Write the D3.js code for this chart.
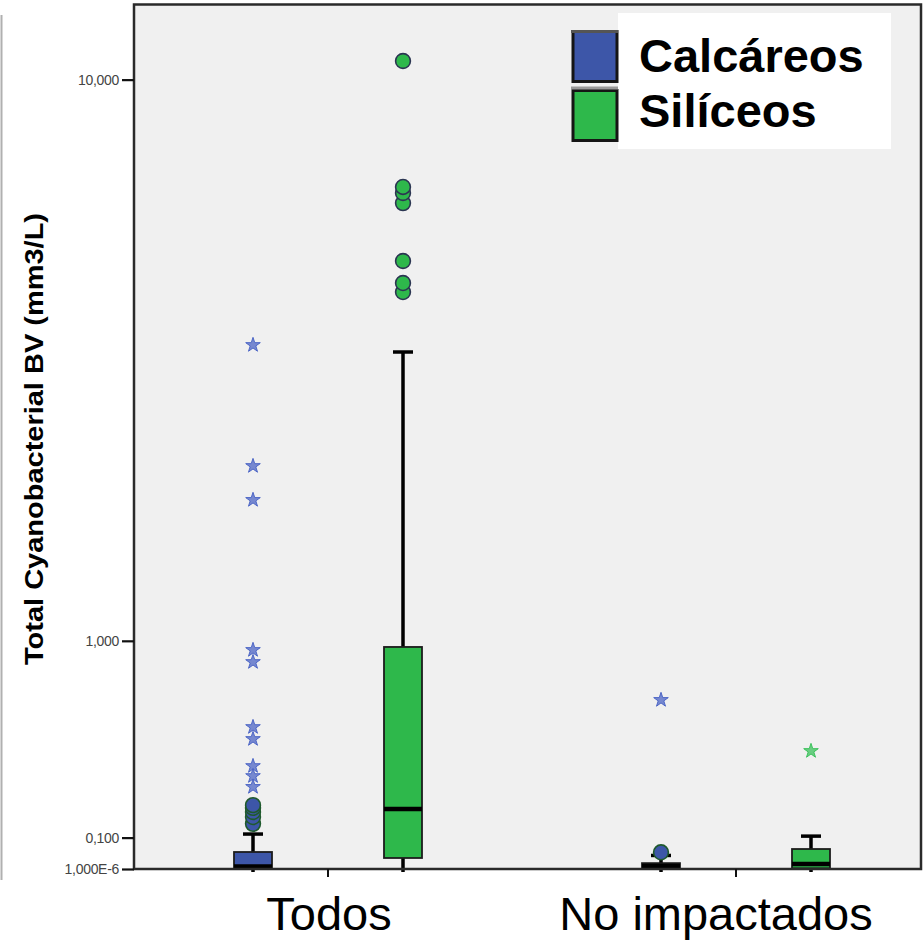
<!DOCTYPE html>
<html>
<head>
<meta charset="utf-8">
<script src="https://cdn.jsdelivr.net/npm/d3@7"></script>
<style>
  html, body { margin: 0; padding: 0; background: #fff; }
  svg { display: block; font-family: "Liberation Sans", Arial, sans-serif; }
</style>
</head>
<body>
<svg id="chart" width="924" height="942"></svg>
<script>
// ---------- DATA ----------
const categories = ["Todos", "No impactados"];
const seriesNames = ["Calcáreos", "Silíceos"];

// box-plot statistics per category (Todos, No impactados)
const calcWhiskerLow  = [0, 0];
const calcQ1          = [0.001, 0.001];
const calcMedian      = [0.008, 0.009];
const calcQ3          = [0.053, 0.018];
const calcWhiskerHigh = [0.112, 0.042];

const silWhiskerLow   = [0, 0];
const silQ1           = [0.034, 0.002];
const silMedian       = [0.200, 0.0153];
const silQ3           = [0.963, 0.0626];
const silWhiskerHigh  = [3.809, 0.105];

// outliers (circles) and extremes (stars)
const calcOutliers = [[0.147, 0.171, 0.189, 0.204, 0.214], [0.052]];
const calcExtremes = [[0.283, 0.326, 0.367, 0.484, 0.539, 0.875, 0.945, 2.068, 2.401, 3.912], [0.671]];
const silOutliers  = [[4.77, 4.93, 5.34, 6.56, 6.795, 6.94, 10.64], []];
const silExtremes  = [[], [0.431]];

const yTickValues = [0.000001, 0.1, 1, 10];
const yTickLabels = ["1,000E-6", "0,100", "1,000", "10,000"];

const yTitle = "Total Cyanobacterial BV (mm3/L)";

// ---------- LAYOUT ----------
const plot = { left: 134, right: 921, top: 4.5, bottom: 869 };
const colors = { "Calcáreos": "#3d56a8", "Silíceos": "#2eb84b" };
const outlierStroke = { "Calcáreos": "#1f5a2d", "Silíceos": "#2b3552" };
const starColor = { "Calcáreos": "#4d66c6", "Silíceos": "#3cc25c" };

const svg = d3.select("#chart");

const y = d3.scaleSymlog().constant(1)
  .domain([0, 12.82])
  .range([plot.bottom, plot.top]);

const x = d3.scaleBand().domain(categories).range([124, 940]);
const bw = x.bandwidth();
const xs = d3.scalePoint().domain(seriesNames).range([bw / 2 - 75, bw / 2 + 75]);
const boxW = 38, capW = 20;

const stats = {
  "Calcáreos": { lo: calcWhiskerLow, q1: calcQ1, med: calcMedian, q3: calcQ3, hi: calcWhiskerHigh, out: calcOutliers, ext: calcExtremes },
  "Silíceos":  { lo: silWhiskerLow,  q1: silQ1,  med: silMedian,  q3: silQ3,  hi: silWhiskerHigh,  out: silOutliers,  ext: silExtremes }
};

// left artifact line
svg.append("line").attr("x1", 1.5).attr("x2", 1.5).attr("y1", 15).attr("y2", 880)
  .attr("stroke", "#b0b0b0").attr("stroke-width", 2);

// plot background
svg.append("rect")
  .attr("x", plot.left).attr("y", plot.top)
  .attr("width", plot.right - plot.left).attr("height", plot.bottom - plot.top)
  .attr("fill", "#f0f0f0");

// ---------- BOXES ----------
const g = svg.append("g");
categories.forEach((cat, ci) => {
  seriesNames.forEach(s => {
    const st = stats[s];
    const cx = x(cat) + xs(s);
    g.append("line").attr("x1", cx).attr("x2", cx)
      .attr("y1", y(st.q3[ci])).attr("y2", y(st.hi[ci]))
      .attr("stroke", "#000").attr("stroke-width", 3.5);
    g.append("line").attr("x1", cx).attr("x2", cx)
      .attr("y1", y(st.q1[ci])).attr("y2", y(st.lo[ci]) + 3)
      .attr("stroke", "#000").attr("stroke-width", 3.5);
    g.append("line").attr("x1", cx - capW / 2).attr("x2", cx + capW / 2)
      .attr("y1", y(st.hi[ci])).attr("y2", y(st.hi[ci]))
      .attr("stroke", "#000").attr("stroke-width", 3.5);
    g.append("rect")
      .attr("x", cx - boxW / 2).attr("width", boxW)
      .attr("y", y(st.q3[ci])).attr("height", y(st.q1[ci]) - y(st.q3[ci]))
      .attr("fill", colors[s]).attr("stroke", "#1c1c1c").attr("stroke-width", 1.8);
    g.append("line").attr("x1", cx - boxW / 2).attr("x2", cx + boxW / 2)
      .attr("y1", y(st.med[ci])).attr("y2", y(st.med[ci]))
      .attr("stroke", "#000").attr("stroke-width", 4.5);
    g.selectAll(null).data(st.out[ci]).enter().append("circle")
      .attr("cx", cx).attr("cy", d => y(d)).attr("r", 7.4)
      .attr("fill", colors[s]).attr("stroke", outlierStroke[s]).attr("stroke-width", 1.6);
    g.selectAll(null).data(st.ext[ci]).enter().append("path")
      .attr("d", d3.symbol().type(d3.symbolStar).size(66)())
      .attr("transform", d => `translate(${cx},${y(d)})`)
      .attr("fill", starColor[s]).attr("fill-opacity", 0.75)
      .attr("stroke", starColor[s]).attr("stroke-width", 1);
  });
});

// frame
svg.append("rect")
  .attr("x", plot.left).attr("y", plot.top)
  .attr("width", plot.right - plot.left).attr("height", plot.bottom - plot.top)
  .attr("fill", "none").attr("stroke", "#2a2a2a").attr("stroke-width", 2.5);

// ---------- AXES ----------
const yAxis = d3.axisLeft(y)
  .tickValues(yTickValues)
  .tickFormat((d, i) => yTickLabels[i])
  .tickSize(12).tickPadding(3);
const ya = svg.append("g").attr("transform", `translate(${plot.left},0)`).call(yAxis);
ya.select(".domain").remove();
ya.selectAll(".tick line").attr("stroke", "#111").attr("stroke-width", 2.2);
ya.selectAll(".tick text")
  .attr("font-family", "Liberation Sans, Arial, sans-serif")
  .attr("font-size", 14).attr("fill", "#444").attr("letter-spacing", -0.3);

const xAxis = d3.axisBottom(x).tickSize(8).tickFormat("");
const xa = svg.append("g").attr("transform", `translate(0,${plot.bottom})`).call(xAxis);
xa.select(".domain").remove();
xa.selectAll(".tick line").attr("stroke", "#111").attr("stroke-width", 2);

// x category labels
const labelDx = [1, -20];
svg.selectAll(".xlabel").data(categories).enter().append("text")
  .attr("class", "xlabel")
  .attr("x", (d, i) => x(d) + bw / 2 + labelDx[i])
  .attr("y", 930)
  .attr("text-anchor", "middle")
  .attr("font-size", 47)
  .attr("fill", "#000")
  .text(d => d);

// y title
svg.append("text")
  .attr("transform", "translate(43,439) rotate(-90)")
  .attr("text-anchor", "middle")
  .attr("font-size", 25).attr("font-weight", "bold")
  .attr("textLength", 452).attr("lengthAdjust", "spacingAndGlyphs")
  .attr("fill", "#000")
  .text(yTitle);

// ---------- LEGEND ----------
const lg = svg.append("g");
lg.append("rect").attr("x", 618).attr("y", 13).attr("width", 273).attr("height", 136).attr("fill", "#fff");
const legY = [30, 89];
const legBase = [72, 127];
seriesNames.forEach((s, i) => {
  lg.append("rect").attr("x", 573).attr("y", legY[i] + 1.5).attr("width", 44).attr("height", 50)
    .attr("fill", colors[s]).attr("stroke", "#151515").attr("stroke-width", 3);
  lg.append("text").attr("x", 639).attr("y", legBase[i])
    .attr("font-size", 47).attr("font-weight", "bold").attr("fill", "#000")
    .text(s);
});
lg.append("line").attr("x1", 571).attr("x2", 618).attr("y1", 31.5).attr("y2", 31.5)
  .attr("stroke", "#555").attr("stroke-width", 3);
lg.append("line").attr("x1", 571).attr("x2", 618).attr("y1", 88).attr("y2", 88)
  .attr("stroke", "#999").attr("stroke-width", 3);
</script>
</body>
</html>
